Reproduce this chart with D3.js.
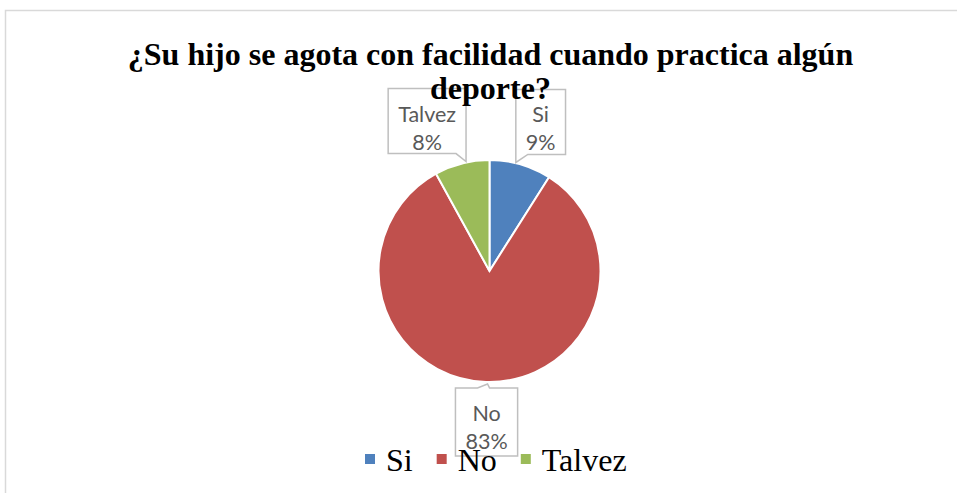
<!DOCTYPE html>
<html><head><meta charset="utf-8">
<script src="https://cdn.jsdelivr.net/npm/d3@7"></script>
<style>html,body{margin:0;padding:0;background:#fff;overflow:hidden}</style>
</head><body><svg id="c" width="958" height="493"></svg>
<script>
const categories = ["Si", "No", "Talvez"];
const values = [9, 83, 8];
const percentLabels = ["9%", "83%", "8%"];
const titleLines = ["¿Su hijo se agota con facilidad cuando practica algún", "deporte?"];
const colors = ["#4f81bd", "#c0504d", "#9bbb59"];

const svg = d3.select("#c");
svg.append("rect").attr("width", 958).attr("height", 493).attr("fill", "#fff");
svg.append("path").attr("d", "M5.5,493 V10.5 H957").attr("fill", "none")
  .attr("stroke", "#d9d9d9").attr("stroke-width", 1.5);

const cx = 489.5, cy = 271, R = 111;
const data = categories.map((c, i) => ({ c, v: values[i], p: percentLabels[i], color: colors[i] }));
const pie = d3.pie().sort(null).value(d => d.v);
const arcs = pie(data);
const arc = d3.arc().innerRadius(0).outerRadius(R);
const g = svg.append("g").attr("transform", `translate(${cx},${cy})`);
g.selectAll("path.slice").data(arcs).join("path").attr("class", "slice")
  .attr("d", arc).attr("fill", d => d.data.color)
  .attr("stroke", "#fff").attr("stroke-width", 2);

// data labels (callouts)
const labelFont = "Lato, 'Open Sans', sans-serif";
const lg = svg.append("g");
arcs.forEach(a => {
  const mid = (a.startAngle + a.endAngle) / 2;
  const s = Math.sin(mid), c = Math.cos(mid);
  const tipX = cx + s * R * 0.85;
  const tipY = cy - c * (R + 2);
  const grp = lg.append("g");
  const path = grp.append("path");
  const t1 = grp.append("text").text(a.data.c);
  const t2 = grp.append("text").text(a.data.p);
  [t1, t2].forEach(t => t.attr("font-family", labelFont).attr("font-size", 21.5)
    .attr("fill", "#595959").attr("text-anchor", "middle"));
  const w = Math.max(t1.node().getComputedTextLength(), t2.node().getComputedTextLength()) + 20;
  let L, Rt, T, B, d;
  if (c > 0) { // top
    B = tipY - 8; T = B - 65;
    if (s > 0) {
      L = tipX; Rt = L + w;
      d = `M${L},${T}H${Rt}V${B}H${L + 12}L${tipX},${tipY}Z`;
    } else {
      Rt = tipX; L = Rt - w;
      d = `M${L},${T}H${Rt}V${tipY}L${Rt - 10},${B}H${L}Z`;
    }
  } else { // bottom
    T = tipY + 4; B = T + 68;
    L = tipX - w / 2; Rt = tipX + w / 2;
    d = `M${L},${T}H${tipX - 9}L${tipX + 1},${tipY}L${tipX + 3},${T}H${Rt}V${B}H${L}Z`;
  }
  path.attr("d", d).attr("fill", "#fff").attr("stroke", "#bfbfbf").attr("stroke-width", 1.5);
  const mx = (L + Rt) / 2;
  t1.attr("x", mx).attr("y", T + 33);
  t2.attr("x", mx).attr("y", T + 61);
});

// title
svg.append("g").selectAll("text").data(titleLines).join("text")
  .attr("x", 490.5).attr("y", (d, i) => 65 + i * 34)
  .attr("text-anchor", "middle")
  .attr("font-family", "'Liberation Serif', 'Times New Roman', serif")
  .attr("font-weight", "bold").attr("font-size", 32).attr("fill", "#000")
  .text(d => d);

// legend
const leg = svg.append("g");
let x = 365;
data.forEach(d => {
  leg.append("rect").attr("x", x).attr("y", 454).attr("width", 10).attr("height", 10).attr("fill", d.color);
  const t = leg.append("text").attr("x", x + 21).attr("y", 471)
    .attr("font-family", "'Liberation Serif', 'Times New Roman', serif")
    .attr("font-size", 32).attr("fill", "#000").text(d.c);
  x = x + 21 + t.node().getComputedTextLength() + 24;
});
</script></body></html>
